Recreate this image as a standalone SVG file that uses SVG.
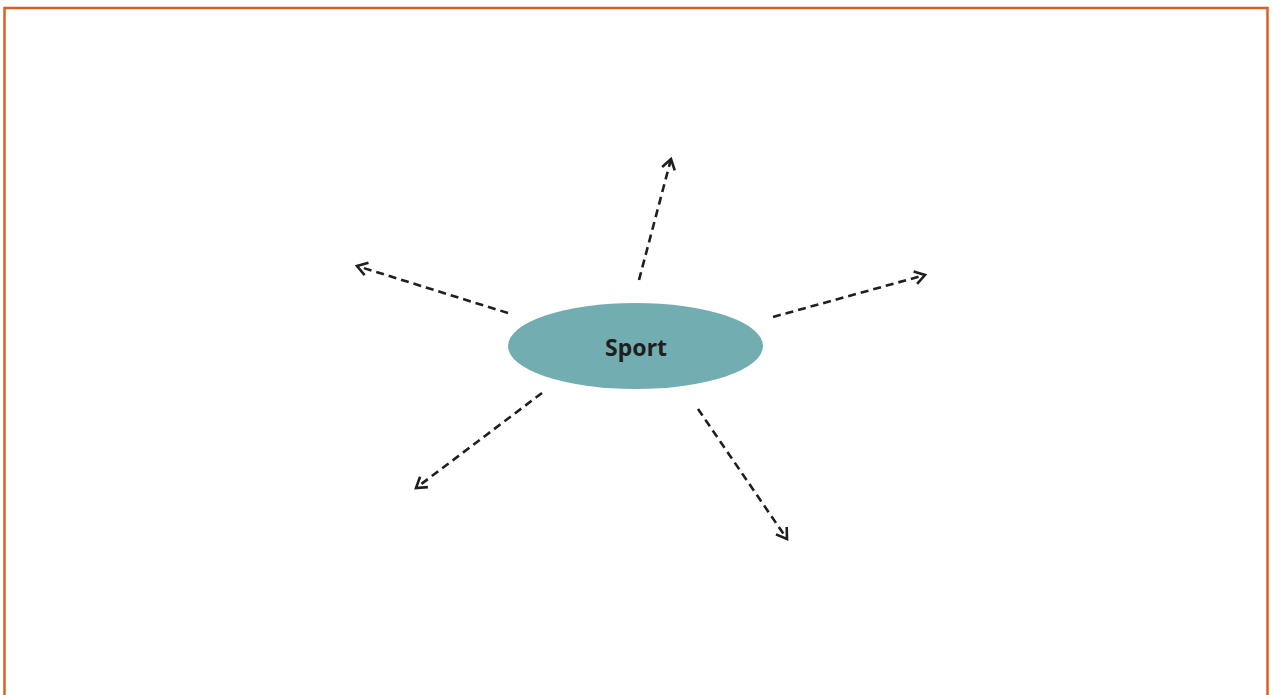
<svg xmlns="http://www.w3.org/2000/svg" width="1273" height="695" viewBox="0 0 1273 695">
<defs>
<style>
.conn{stroke:#1f1f1f;stroke-width:2.6;stroke-dasharray:8 5;fill:none;marker-end:url(#arr)}
.lbl{font-family:"Noto Sans","Open Sans",sans-serif;font-weight:bold;font-size:23px;fill:#1f1f1f}
</style>
<marker id="arr" viewBox="0 0 16 16" refX="13" refY="8" markerWidth="16" markerHeight="16" markerUnits="userSpaceOnUse" orient="auto">
<path d="M3,1.5 L13,8 L3,14.5" fill="none" stroke="#1f1f1f" stroke-width="2.6"/>
</marker>
</defs>
<rect x="0" y="0" width="1273" height="695" fill="#ffffff"/>
<rect x="4.5" y="8" width="1263" height="700" fill="none" stroke="#d9601f" stroke-width="2.5"/>
<g id="connectors">
<line class="conn" x1="639" y1="280" x2="671" y2="159"/>
<line class="conn" x1="508" y1="313" x2="357" y2="266"/>
<line class="conn" x1="773" y1="317" x2="925" y2="275"/>
<line class="conn" x1="542" y1="393" x2="416" y2="488"/>
<line class="conn" x1="698" y1="409" x2="787" y2="539"/>
</g>
<g id="sport">
<ellipse cx="635.5" cy="346" rx="127.5" ry="43" fill="#72aeb1"/>
<text class="lbl" x="636" y="356" text-anchor="middle">Sport</text>
</g>
</svg>
